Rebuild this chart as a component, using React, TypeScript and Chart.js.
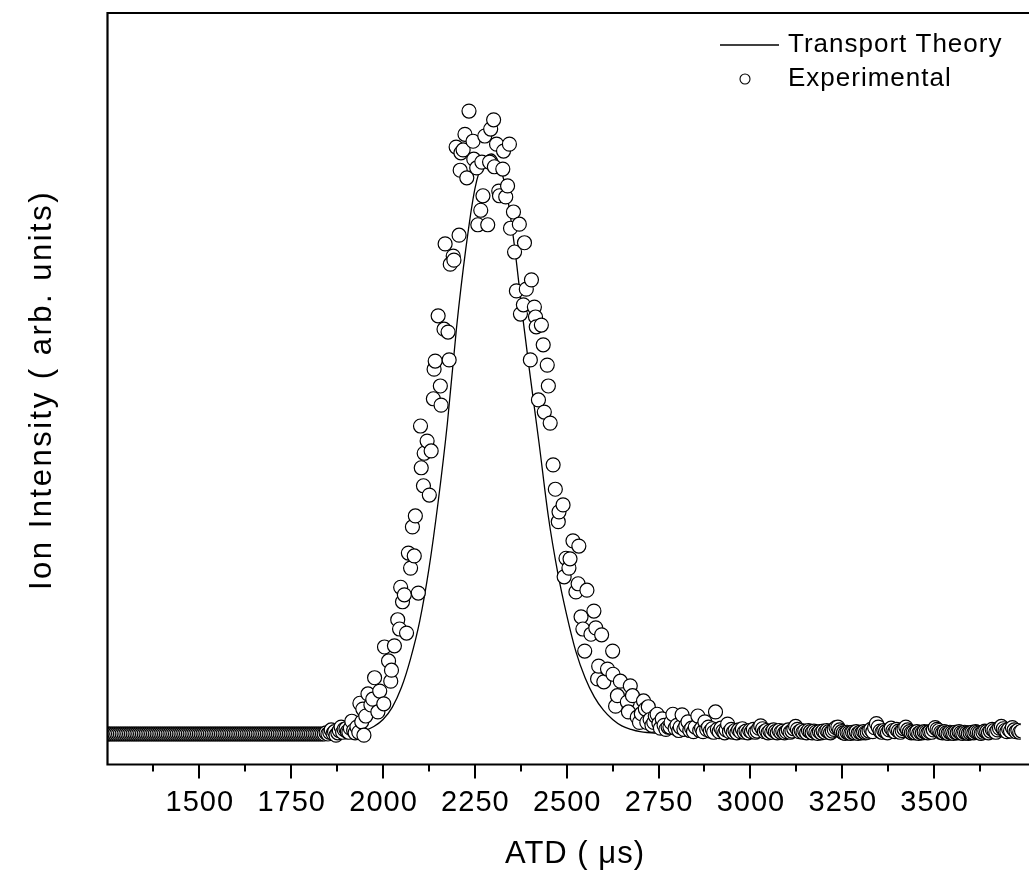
import { useEffect, useRef } from "react";
import { Chart, registerables } from "chart.js";

Chart.register(...registerables);

const FONT = '"Liberation Sans", Arial, Helvetica, sans-serif';

// ---------- Transport theory curve (ATD in µs, normalized intensity) ----------
const theoryTimes = [
  1250, 1900, 1925, 1950, 1975, 2000, 2025, 2050, 2075, 2100, 2125, 2150, 2175, 2200,
  2225, 2250, 2275, 2295, 2315, 2340, 2360, 2380, 2400, 2425, 2450, 2475, 2500, 2525,
  2550, 2575, 2600, 2625, 2650, 2675, 2700, 2750, 2800, 3740,
];
const theoryValues = [
  0, 0, 0.002, 0.006, 0.013, 0.025, 0.046, 0.08, 0.13, 0.195, 0.285, 0.4, 0.535, 0.7,
  0.835, 0.94, 0.99, 1.0, 0.985, 0.92, 0.83, 0.72, 0.62, 0.5, 0.375, 0.28, 0.205, 0.142,
  0.097, 0.064, 0.041, 0.025, 0.014, 0.008, 0.004, 0.001, 0, 0,
];

// ---------- Experimental: flat baseline before the peak ----------
const leftBaseTimes = [
  1250, 1255, 1260, 1265, 1270, 1275, 1280, 1285, 1290, 1295,
  1300, 1305, 1310, 1315, 1320, 1325, 1330, 1335, 1340, 1345,
  1350, 1355, 1360, 1365, 1370, 1375, 1380, 1385, 1390, 1395,
  1400, 1405, 1410, 1415, 1420, 1425, 1430, 1435, 1440, 1445,
  1450, 1455, 1460, 1465, 1470, 1475, 1480, 1485, 1490, 1495,
  1500, 1505, 1510, 1515, 1520, 1525, 1530, 1535, 1540, 1545,
  1550, 1555, 1560, 1565, 1570, 1575, 1580, 1585, 1590, 1595,
  1600, 1605, 1610, 1615, 1620, 1625, 1630, 1635, 1640, 1645,
  1650, 1655, 1660, 1665, 1670, 1675, 1680, 1685, 1690, 1695,
  1700, 1705, 1710, 1715, 1720, 1725, 1730, 1735, 1740, 1745,
  1750, 1755, 1760, 1765, 1770, 1775, 1780, 1785, 1790, 1795,
  1800, 1805, 1810, 1815, 1820, 1825, 1830, 1835, 1840,
];
const leftBaseSignal = [
  0, 0, 0, 0, 0, 0, 0, 0, 0, 0,
  0, 0, 0, 0, 0, 0, 0, 0, 0, 0,
  0, 0, 0, 0, 0, 0, 0, 0, 0, 0,
  0, 0, 0, 0, 0, 0, 0, 0, 0, 0,
  0, 0, 0, 0, 0, 0, 0, 0, 0, 0,
  0, 0, 0, 0, 0, 0, 0, 0, 0, 0,
  0, 0, 0, 0, 0, 0, 0, 0, 0, 0,
  0, 0, 0, 0, 0, 0, 0, 0, 0, 0,
  0, 0, 0, 0, 0, 0, 0, 0, 0, 0,
  0, 0, 0, 0, 0, 0, 0, 0, 0, 0,
  0, 0, 0, 0, 0, 0, 0, 0, 0, 0,
  0, 0, 0, 0, 0, 0, 0, 0, 0,
];

// ---------- Experimental: peak region ----------
const peakTimes = [
  1845, 1850, 1855, 1859, 1864, 1868, 1872, 1877, 1881, 1886, 1890, 1894, 1899, 1903,
  1907, 1911, 1915, 1920, 1924, 1929, 1934, 1937, 1942, 1945, 1948, 1953, 1959, 1967,
  1972, 1977, 1986, 1991, 2002, 2004, 2015, 2021, 2023, 2031, 2040, 2045, 2048, 2053,
  2058, 2064, 2069, 2075, 2080, 2085, 2088, 2096, 2102, 2104, 2110, 2112, 2120, 2126,
  2131, 2137, 2139, 2142, 2150, 2156, 2158, 2166, 2169, 2177, 2180, 2183, 2191, 2193,
  2199, 2207, 2210, 2212, 2218, 2223, 2228, 2234, 2245, 2247, 2255, 2258, 2266, 2269,
  2272, 2277, 2285, 2290, 2293, 2301, 2303, 2309, 2315, 2317, 2326, 2328, 2334, 2339,
  2344, 2347, 2355, 2358, 2363, 2371, 2374, 2382, 2385, 2390, 2401, 2404, 2412, 2415,
  2417, 2423, 2431, 2436, 2439, 2447, 2450, 2455, 2463, 2469, 2477, 2479, 2490, 2493,
  2498, 2506, 2509, 2517, 2525, 2531, 2533, 2539, 2544, 2549, 2555, 2566, 2574, 2579,
  2584, 2587, 2595, 2601, 2611, 2625, 2626, 2633, 2638, 2646, 2665, 2668, 2673, 2679,
  2692, 2698, 2703, 2709, 2714, 2718, 2722, 2727, 2732, 2737, 2741, 2746, 2751, 2755,
  2760, 2765, 2770, 2776, 2781, 2784, 2789, 2795, 2800, 2805, 2809, 2814, 2819, 2824,
  2830, 2835, 2840, 2845, 2850, 2857, 2862, 2867, 2871, 2876, 2881, 2886, 2891, 2896,
  2900, 2905, 2910, 2915, 2920, 2925, 2930, 2934, 2938,
];
const peakSignal = [
  0.002, 0, 0.003, 0.007, 0.001, 0.004, -0.002, 0.002, 0.006, 0.012, 0.003, 0.008, 0.009, 0.004,
  0.003, 0.01, 0.022, 0.006, 0.002, 0.012, 0.003, 0.053, 0.021, 0.043, -0.002, 0.031, 0.069, 0.05,
  0.06, 0.097, 0.038, 0.074, 0.052, 0.15, 0.126, 0.091, 0.11, 0.152, 0.197, 0.181, 0.253, 0.228,
  0.24, 0.174, 0.312, 0.286, 0.357, 0.307, 0.376, 0.243, 0.531, 0.459, 0.428, 0.484, 0.505, 0.412,
  0.488, 0.578, 0.629, 0.643, 0.721, 0.6, 0.567, 0.698, 0.845, 0.693, 0.645, 0.81, 0.824, 0.817,
  1.012, 0.86, 0.972, 1.002, 1.007, 1.034, 0.959, 1.074, 1.022, 0.991, 0.976, 0.878, 0.903, 0.986,
  0.928, 1.031, 0.878, 0.986, 1.043, 1.059, 0.978, 1.017, 0.936, 0.928, 0.974, 1.005, 0.926, 0.945,
  1.017, 0.872, 0.9, 0.831, 0.764, 0.879, 0.724, 0.74, 0.847, 0.767, 0.645, 0.783, 0.736, 0.719,
  0.702, 0.576, 0.705, 0.671, 0.555, 0.636, 0.6, 0.536, 0.464, 0.422, 0.366, 0.383, 0.395, 0.271,
  0.303, 0.286, 0.302, 0.333, 0.245, 0.259, 0.324, 0.202, 0.181, 0.143, 0.248, 0.172, 0.212, 0.183,
  0.095, 0.117, 0.171, 0.09, 0.112, 0.143, 0.103, 0.048, 0.066, 0.091, 0.055, 0.038, 0.083, 0.066,
  0.029, 0.02, 0.035, 0.057, 0.043, 0.02, 0.047, 0.025, 0.015, 0.02, 0.031, 0.034, 0.018, 0.01,
  0.026, 0.015, 0.008, 0.012, 0.012, 0.02, 0.034, 0.01, 0.015, 0.006, 0.012, 0.033, 0.008, 0.014,
  0.021, 0.006, 0.01, 0.004, 0.012, 0.031, 0.006, 0.01, 0.004, 0.021, 0.008, 0.012, 0.005, 0.009,
  0.003, 0.038, 0.008, 0.004, 0.01, 0.005, 0.002, 0.007, 0.017,
];

// ---------- Experimental: baseline after the peak ----------
const rightBaseTimes = [
  2943, 2948, 2953, 2958, 2963, 2968, 2973, 2978, 2983, 2988,
  2993, 2998, 3003, 3008, 3013, 3018, 3023, 3028, 3033, 3038,
  3043, 3048, 3053, 3058, 3063, 3068, 3073, 3078, 3083, 3088,
  3093, 3098, 3103, 3108, 3113, 3118, 3123, 3128, 3133, 3138,
  3143, 3148, 3153, 3158, 3163, 3168, 3173, 3178, 3183, 3188,
  3193, 3198, 3203, 3208, 3213, 3218, 3223, 3228, 3233, 3238,
  3243, 3248, 3253, 3258, 3263, 3268, 3273, 3278, 3283, 3288,
  3293, 3298, 3303, 3308, 3313, 3318, 3323, 3328, 3333, 3338,
  3343, 3348, 3353, 3358, 3363, 3368, 3373, 3378, 3383, 3388,
  3393, 3398, 3403, 3408, 3413, 3418, 3423, 3428, 3433, 3438,
  3443, 3448, 3453, 3458, 3463, 3468, 3473, 3478, 3483, 3488,
  3493, 3498, 3503, 3508, 3513, 3518, 3523, 3528, 3533, 3538,
  3543, 3548, 3553, 3558, 3563, 3568, 3573, 3578, 3583, 3588,
  3593, 3598, 3603, 3608, 3613, 3618, 3623, 3628, 3633, 3638,
  3643, 3648, 3653, 3658, 3663, 3668, 3673, 3678, 3683, 3688,
  3693, 3698, 3703, 3708, 3713, 3718, 3723, 3728, 3733, 3738,
];
const rightBaseSignal = [
  0.004, 0.008, 0.003, 0.006, 0.002, 0.007, 0.004, 0.009, 0.003, 0.005,
  0.002, 0.006, 0.004, 0.008, 0.003, 0.005, 0.01, 0.014, 0.009, 0.004,
  0.006, 0.002, 0.005, 0.003, 0.007, 0.004, 0.002, 0.006, 0.003, 0.005,
  0.002, 0.004, 0.007, 0.003, 0.005, 0.009, 0.013, 0.008, 0.004, 0.006,
  0.003, 0.005, 0.002, 0.006, 0.004, 0.002, 0.005, 0.003, 0.001, 0.004,
  0.002, 0.005, 0.003, 0.006, 0.004, 0.002, 0.005, 0.008, 0.011, 0.012,
  0.007, 0.004, 0.002, 0.001, 0.003, 0.002, 0.001, 0.003, 0.002, 0.004,
  0.001, 0.003, 0.002, 0.004, 0.002, 0.003, 0.005, 0.008, 0.004, 0.011,
  0.018, 0.012, 0.005, 0.003, 0.006, 0.004, 0.002, 0.007, 0.01, 0.006,
  0.004, 0.008, 0.005, 0.003, 0.006, 0.009, 0.012, 0.007, 0.004, 0.002,
  0.003, 0.002, 0.004, 0.001, 0.003, 0.002, 0.004, 0.003, 0.002, 0.004,
  0.003, 0.007, 0.011, 0.008, 0.006, 0.003, 0.002, 0.004, 0.002, 0.001,
  0.003, 0.002, 0.001, 0.003, 0.002, 0.004, 0.002, 0.001, 0.003, 0.002,
  0.001, 0.002, 0.003, 0.002, 0.004, 0.003, 0.002, 0.001, 0.003, 0.005,
  0.004, 0.002, 0.005, 0.008, 0.006, 0.003, 0.007, 0.01, 0.013, 0.009,
  0.006, 0.004, 0.008, 0.005, 0.011, 0.007, 0.004, 0.006, 0.003, 0.005,
];

// ---------- Axis ticks and texts ----------
const xMajorTicks = [1500, 1750, 2000, 2250, 2500, 2750, 3000, 3250, 3500];
const xTickLabels = ["1500", "1750", "2000", "2250", "2500", "2750", "3000", "3250", "3500"];
const xMinorTicks = [1375, 1625, 1875, 2125, 2375, 2625, 2875, 3125, 3375, 3625];
const xAxisTitle = "ATD ( \u03bcs)";
const yAxisTitle = "Ion Intensity ( arb. units)";
const legendLabels = ["Transport Theory", "Experimental"];

const zip = (xs: number[], ys: number[]) => xs.map((x, i) => ({ x, y: ys[i] }));

const decorPlugin = {
  id: "decor",
  afterDatasetsDraw(chart: any) {
    const { ctx, chartArea: a, scales } = chart;
    const xs = scales.x;
    ctx.save();
    ctx.strokeStyle = "#000";
    ctx.fillStyle = "#000";
    ctx.lineCap = "butt";

    // frame (left, top, bottom)
    ctx.lineWidth = 2.2;
    ctx.beginPath();
    ctx.moveTo(a.left, a.bottom + 1.1);
    ctx.lineTo(a.left, a.top);
    ctx.lineTo(a.right + 10, a.top);
    ctx.moveTo(a.left - 1.1, a.bottom);
    ctx.lineTo(a.right + 10, a.bottom);
    ctx.stroke();

    // ticks
    ctx.lineWidth = 2;
    ctx.beginPath();
    for (const v of xMajorTicks) {
      const px = Math.round(xs.getPixelForValue(v));
      ctx.moveTo(px, a.bottom);
      ctx.lineTo(px, a.bottom + 14);
    }
    for (const v of xMinorTicks) {
      const px = Math.round(xs.getPixelForValue(v));
      ctx.moveTo(px, a.bottom);
      ctx.lineTo(px, a.bottom + 7);
    }
    ctx.stroke();

    // tick labels
    ctx.font = `29px ${FONT}`;
    ctx.textAlign = "center";
    ctx.textBaseline = "middle";
    (ctx as any).letterSpacing = "1px";
    xTickLabels.forEach((lab, i) => {
      ctx.fillText(lab, xs.getPixelForValue(xMajorTicks[i]) + 0.5, 803);
    });

    // x title
    ctx.font = `31px ${FONT}`;
    (ctx as any).letterSpacing = "1px";
    ctx.fillText(xAxisTitle, 575, 854);

    // y title
    ctx.save();
    ctx.translate(42, 390);
    ctx.rotate(-Math.PI / 2);
    ctx.font = `31px ${FONT}`;
    (ctx as any).letterSpacing = "2.5px";
    ctx.fillText(yAxisTitle, 0, 0);
    ctx.restore();

    // legend
    ctx.font = `26px ${FONT}`;
    (ctx as any).letterSpacing = "1px";
    ctx.textAlign = "left";
    ctx.lineWidth = 1.3;
    ctx.beginPath();
    ctx.moveTo(720, 45);
    ctx.lineTo(779, 45);
    ctx.stroke();
    ctx.fillText(legendLabels[0], 788, 45);
    ctx.beginPath();
    ctx.arc(745, 79, 5, 0, Math.PI * 2);
    ctx.fillStyle = "#fff";
    ctx.fill();
    ctx.lineWidth = 1.1;
    ctx.stroke();
    ctx.fillStyle = "#000";
    ctx.fillText(legendLabels[1], 788, 79);

    ctx.restore();
  },
};

export default function App() {
  const ref = useRef<HTMLCanvasElement | null>(null);

  useEffect(() => {
    if (!ref.current) return;
    const experimental = [
      ...zip(leftBaseTimes, leftBaseSignal),
      ...zip(peakTimes, peakSignal),
      ...zip(rightBaseTimes, rightBaseSignal),
    ];
    const chart = new Chart(ref.current, {
      type: "scatter",
      data: {
        datasets: [
          {
            label: legendLabels[1],
            data: experimental,
            pointRadius: 7,
            pointHoverRadius: 7,
            pointBorderWidth: 1.2,
            pointBackgroundColor: "#ffffff",
            pointBorderColor: "#000000",
            showLine: false,
            order: 0,
          },
          {
            type: "line",
            label: legendLabels[0],
            data: zip(theoryTimes, theoryValues),
            borderColor: "#000000",
            borderWidth: 1.3,
            pointRadius: 0,
            fill: false,
            cubicInterpolationMode: "monotone",
            order: 1,
          } as any,
        ],
      },
      options: {
        responsive: false,
        maintainAspectRatio: false,
        animation: false,
        devicePixelRatio: 1,
        layout: { padding: { left: 107.5, top: 13, right: 0, bottom: 109.5 } },
        scales: {
          x: { type: "linear", display: false, min: 1250, max: 3736 },
          y: { type: "linear", display: false, min: -0.0526, max: 1.2431 },
        },
        plugins: {
          legend: { display: false },
          tooltip: { enabled: false },
        },
        events: [],
      },
      plugins: [decorPlugin],
    });
    return () => chart.destroy();
  }, []);

  return (
    <div
      style={{
        position: "fixed",
        left: 0,
        top: 0,
        width: 1029,
        height: 874,
        overflow: "hidden",
        background: "#fff",
      }}
    >
      <canvas ref={ref} width={1029} height={874} style={{ display: "block", width: 1029, height: 874 }} />
    </div>
  );
}
